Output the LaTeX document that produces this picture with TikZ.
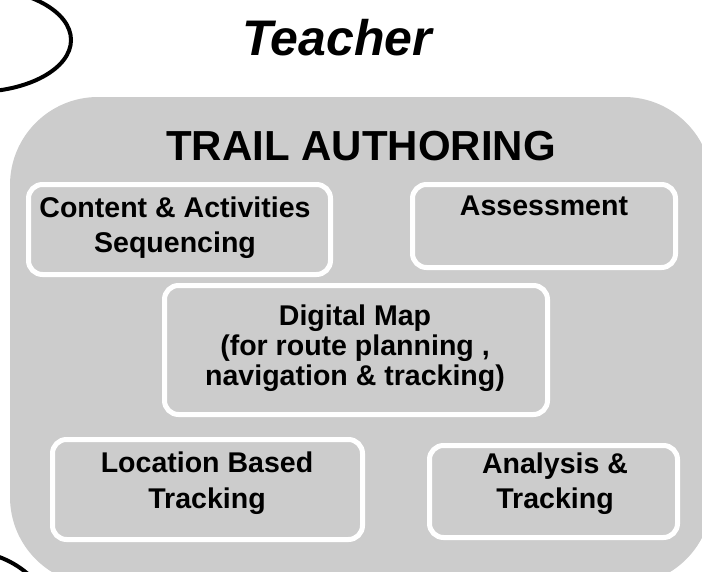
\documentclass[tikz,border=0pt]{standalone}
\usepackage{fontspec}
\setmainfont{Liberation Sans}
\usepackage{xcolor}
\definecolor{panelgray}{RGB}{204,204,204}

\begin{document}
\begin{tikzpicture}[x=0.75pt, y=-0.75pt,
	module/.style={draw=white, line width=3.75pt, fill=panelgray, rounded corners=10.5pt, inner sep=0pt},
	modtext/.style={font=\fontsize{21.4}{26.25}\selectfont\bfseries, align=center, anchor=base, inner sep=0pt}]
	\useasboundingbox (0,0) rectangle (702,571);
	% actors cut by the page edge
	\draw [line width=3pt] (-25,40) ellipse [x radius=72pt, y radius=39pt];
	\draw [line width=3pt] (-40,620) ellipse [x radius=67.5pt, y radius=52.5pt];
	\node (teacher) [anchor=base, inner sep=0pt, font=\fontsize{37.5}{40}\selectfont\bfseries\itshape] at (337,55) {Teacher};
	% authoring panel
	\fill [panelgray, rounded corners=66pt] (10,97) rectangle (712,585);
	\node (title) [anchor=base, inner sep=0pt, font=\fontsize{31.5}{36}\selectfont\bfseries] at (361,160) {TRAIL AUTHORING};
	\node (seq) [module, minimum width=226.5pt, minimum height=67.5pt] at (179.5,229.5) {};
	\node (assess) [module, minimum width=197.25pt, minimum height=62.25pt] at (544,226) {};
	\node (map) [module, minimum width=287.25pt, minimum height=96.75pt] at (356,350) {};
	\node (loc) [module, minimum width=232.5pt, minimum height=75pt] at (207.5,489.5) {};
	\node (anal) [module, minimum width=186pt, minimum height=69pt] at (553.5,491.5) {};
	% texts sit on the baseline of their last line
	\node (seqtext) [modtext] at (175,252) {Content \& Activities\\Sequencing};
	\node (assesstext) [modtext] at (544,215) {Assessment};
	\node (maptext) [modtext, font=\fontsize{21.4}{22.5}\selectfont\bfseries] at (355,385) {Digital Map\\(for route planning ,\\navigation \& tracking)};
	\node (loctext) [modtext, font=\fontsize{21.4}{27}\selectfont\bfseries] at (207,508) {Location Based\\Tracking};
	\node (analtext) [modtext] at (555,508) {Analysis \&\\Tracking};
\end{tikzpicture}
\end{document}
